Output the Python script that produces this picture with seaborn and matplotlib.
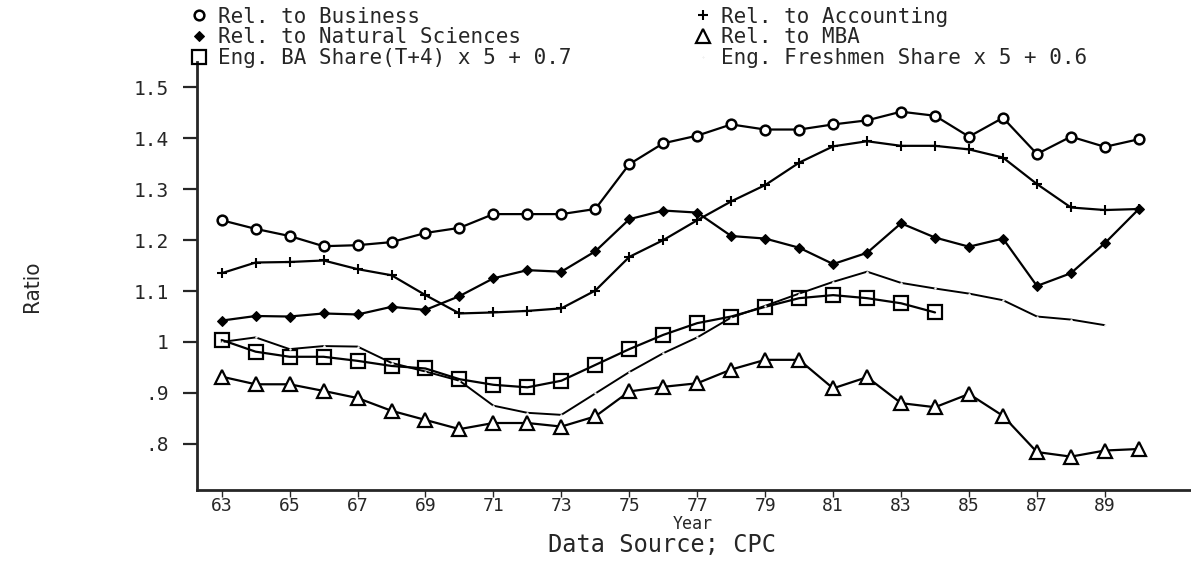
import seaborn as sns
import pandas as pd
import matplotlib
matplotlib.use("Agg")
import matplotlib.pyplot as plt

years = list(range(63, 91))
business = [1.239, 1.222, 1.208, 1.188, 1.19, 1.196, 1.214, 1.224, 1.251, 1.251,
            1.251, 1.261, 1.349, 1.39, 1.405, 1.427, 1.417, 1.417, 1.427, 1.435,
            1.452, 1.444, 1.403, 1.44, 1.369, 1.403, 1.383, 1.398]
natsci = [1.042, 1.051, 1.05, 1.056, 1.054, 1.069, 1.063, 1.09, 1.125, 1.141,
          1.138, 1.178, 1.241, 1.258, 1.254, 1.208, 1.203, 1.185, 1.153, 1.175,
          1.233, 1.205, 1.187, 1.203, 1.11, 1.135, 1.194, 1.261]
accounting = [1.135, 1.156, 1.157, 1.16, 1.143, 1.131, 1.092, 1.056, 1.058, 1.061,
              1.066, 1.101, 1.167, 1.2, 1.239, 1.276, 1.308, 1.352, 1.384, 1.394,
              1.385, 1.385, 1.378, 1.362, 1.31, 1.264, 1.259, 1.261]
mba = [0.932, 0.917, 0.917, 0.904, 0.89, 0.865, 0.847, 0.829, 0.841, 0.841,
       0.834, 0.854, 0.903, 0.912, 0.919, 0.946, 0.965, 0.965, 0.909, 0.931,
       0.88, 0.872, 0.898, 0.855, 0.784, 0.775, 0.787, 0.79]
ba_years = list(range(63, 85))
ba_share = [1.004, 0.981, 0.971, 0.971, 0.963, 0.953, 0.948, 0.927, 0.916, 0.911,
            0.924, 0.955, 0.986, 1.014, 1.037, 1.05, 1.069, 1.086, 1.092, 1.086,
            1.076, 1.058]
fr_years = list(range(63, 90))
freshmen = [1.0, 1.009, 0.986, 0.992, 0.991, 0.959, 0.942, 0.924, 0.875, 0.861,
            0.857, 0.899, 0.941, 0.978, 1.009, 1.048, 1.071, 1.095, 1.118, 1.138,
            1.116, 1.105, 1.095, 1.082, 1.05, 1.044, 1.033]

xticks = list(range(63, 90, 2))
yticks = [0.8, 0.9, 1.0, 1.1, 1.2, 1.3, 1.4, 1.5]
ytick_labels = ['.8', '.9', '1', '1.1', '1.2', '1.3', '1.4', '1.5']

sns.set_style("ticks")
plt.rcParams['font.family'] = ['DejaVu Sans Mono', 'DejaVu Sans']

fig = plt.figure(figsize=(11.91, 5.61), dpi=100)
ax = fig.add_axes([0.165, 0.127, 0.834, 0.762])

k = dict(color='black', linewidth=1.6, ax=ax)
sns.lineplot(x=years, y=business, marker='o', markersize=7, markerfacecolor='white',
             markeredgecolor='black', markeredgewidth=1.8, label='Rel. to Business', **k)
sns.lineplot(x=years, y=natsci, marker='D', markersize=5.5, markerfacecolor='black',
             markeredgecolor='black', label='Rel. to Natural Sciences', **k)
sns.lineplot(x=ba_years, y=ba_share, marker='s', markersize=10, markerfacecolor='none',
             markeredgecolor='black', markeredgewidth=1.6,
             label='Eng. BA Share(T+4) x 5 + 0.7', **k)
sns.lineplot(x=years, y=accounting, marker='+', markersize=7, markeredgewidth=1.5,
             markeredgecolor='black', label='Rel. to Accounting', **k)
sns.lineplot(x=years, y=mba, marker='^', markersize=10, markerfacecolor='white',
             markeredgecolor='black', markeredgewidth=1.6, label='Rel. to MBA', **k)
sns.lineplot(x=fr_years, y=freshmen, marker='.', markersize=2, color='black',
             linewidth=1.4, ax=ax, label='Eng. Freshmen Share x 5 + 0.6')

ax.set_xlim(62.26, 91.5)
ax.set_ylim(0.71, 1.549)
ax.set_xticks(xticks)
ax.set_xticklabels([str(t) for t in xticks], fontsize=13)
ax.set_yticks(yticks)
ax.set_yticklabels(ytick_labels, fontsize=14)
ax.tick_params(axis='y', direction='out', length=10, width=1.6, pad=10)
ax.tick_params(axis='x', direction='out', length=5, width=1.0, pad=0)
sns.despine(ax=ax)
for s in ['left', 'bottom']:
    ax.spines[s].set_linewidth(2)

ax.set_xlabel('Year', fontsize=12)
ax.xaxis.set_label_coords(0.4995, -0.059)
ax.set_ylabel('Ratio', fontsize=16, family='DejaVu Sans', fontstretch='condensed')
ax.yaxis.set_label_coords(-0.156, 0.477)
fig.text(0.556, 0.029, 'Data Source; CPC', fontsize=17, ha='center', va='center')

handles, labels = ax.get_legend_handles_labels()
ax.legend_.remove()
fig.legend(handles, labels, ncol=2, loc='upper left', bbox_to_anchor=(0.155, 1.003),
           frameon=False, fontsize=15, handlelength=0.6, handletextpad=0.6,
           labelspacing=0.03, columnspacing=6.0, borderaxespad=0)
for h in fig.legends[0].legend_handles:
    h.set_linestyle('none')

fig.savefig('out.png', dpi=100)
